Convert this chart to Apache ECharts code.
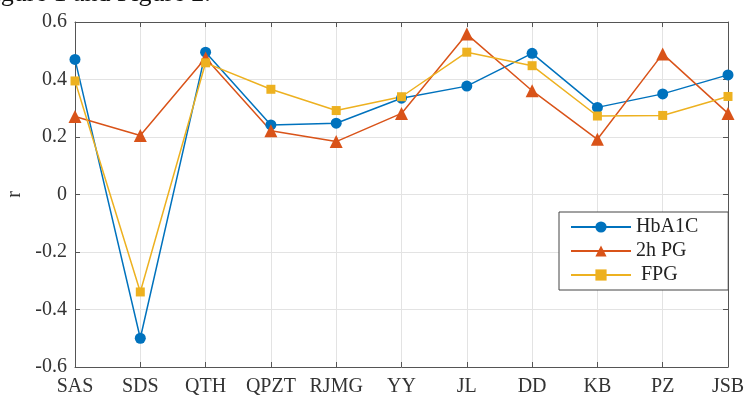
<!DOCTYPE html>
<html>
<head>
<meta charset="utf-8">
<script src="https://cdn.jsdelivr.net/npm/echarts@6/dist/echarts.min.js"></script>
<style>
  html, body { margin: 0; padding: 0; background: #fff; }
  #chart { width: 747px; height: 396px; }
</style>
</head>
<body>
<div id="chart"></div>
<script>
// data
var categories = ["SAS", "SDS", "QTH", "QPZT", "RJMG", "YY", "JL", "DD", "KB", "PZ", "JSB"];
var hba1c = [0.47, -0.50, 0.495, 0.242, 0.248, 0.335, 0.377, 0.491, 0.303, 0.35, 0.416];
var pg2h  = [0.271, 0.205, 0.475, 0.222, 0.184, 0.282, 0.558, 0.361, 0.192, 0.489, 0.282];
var fpg   = [0.395, -0.339, 0.458, 0.366, 0.292, 0.34, 0.495, 0.448, 0.273, 0.275, 0.341];
var seriesNames = ["HbA1C", "2h PG", " FPG"];

var font = "Liberation Serif";
var axisColor = "#555";
var gridColor = "#e3e3e3";

var chart = echarts.init(document.getElementById("chart"));

function xAx(pos, show) {
    return {
        type: "category",
        data: categories,
        position: pos,
        boundaryGap: false,
        axisLine: { show: true, onZero: false, lineStyle: { color: axisColor, width: 1 } },
        axisTick: { show: true, inside: true, length: 5, interval: 0, alignWithLabel: true, lineStyle: { color: axisColor } },
        axisLabel: { show: show, interval: 0, color: "#333", fontFamily: font, fontSize: 20, margin: 10 },
        splitLine: { show: show, interval: 0, lineStyle: { color: gridColor } }
    };
}

function yAx(pos, show) {
    return {
        type: "value",
        position: pos,
        min: -0.6,
        max: 0.6,
        interval: 0.2,
        name: show ? "r" : "",
        nameLocation: "middle",
        nameGap: 47,
        nameTextStyle: { color: "#333", fontFamily: font, fontSize: 20 },
        axisLine: { show: true, onZero: false, lineStyle: { color: axisColor, width: 1 } },
        axisTick: { show: true, inside: true, length: 5, lineStyle: { color: axisColor } },
        axisLabel: {
            show: show, color: "#333", fontFamily: font, fontSize: 20, margin: 8,
            formatter: function (v) { return String(Math.round(v * 10) / 10); }
        },
        splitLine: { show: show, lineStyle: { color: gridColor } }
    };
}

function line(name, data, color, symbol, size) {
    return {
        name: name,
        type: "line",
        data: data,
        xAxisIndex: 0,
        yAxisIndex: 0,
        symbol: symbol,
        symbolSize: size,
        showAllSymbol: true,
        lineStyle: { color: color, width: 1.5 },
        itemStyle: { color: color },
        emphasis: { disabled: true }
    };
}

var option = {
    animation: false,
    backgroundColor: "#fff",
    grid: { left: 75, right: 19, top: 22, bottom: 29, outerBoundsMode: "none" },
    xAxis: [xAx("bottom", true), xAx("top", false)],
    yAxis: [yAx("left", true), yAx("right", false)],
    legend: {
        data: seriesNames,
        orient: "vertical",
        left: 559,
        top: 212,
        itemWidth: 60,
        itemHeight: 14,
        itemGap: 4,
        padding: [5, 30, 5, 11],
        borderColor: "#444",
        borderWidth: 1,
        backgroundColor: "#fff",
        textStyle: { color: "#222", fontFamily: font, fontSize: 20 }
    },
    graphic: [{
        type: "text",
        left: -21,
        top: -19,
        style: { text: "Figure 1 and Figure 2.", fontFamily: font, fontSize: 26, fill: "#111" }
    }],
    series: [
        line(seriesNames[0], hba1c, "#0072BD", "circle", 11),
        line(seriesNames[1], pg2h, "#D95319", "triangle", 13),
        line(seriesNames[2], fpg, "#EDB120", "rect", 9)
    ]
};

chart.setOption(option);
</script>
</body>
</html>
